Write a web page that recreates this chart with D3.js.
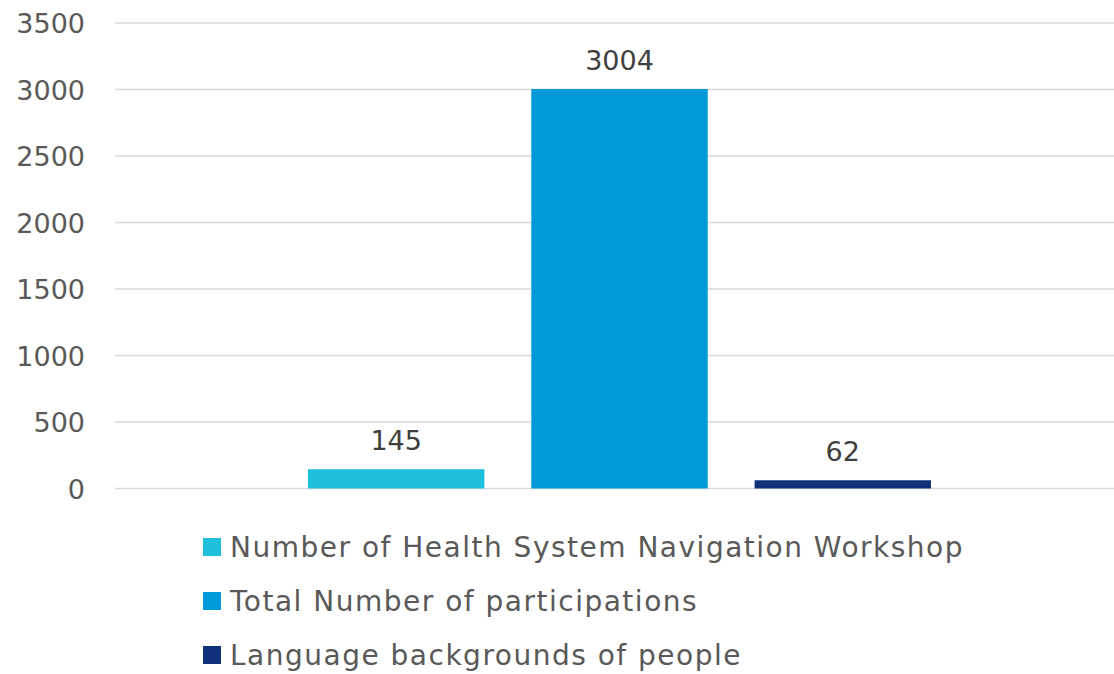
<!DOCTYPE html>
<html><head><meta charset="utf-8">
<script src="https://cdn.jsdelivr.net/npm/d3@7"></script>
<style>body{margin:0;background:#fff}svg{display:block}</style>
</head><body><svg id="c" width="1114" height="674"></svg>
<script>
const seriesNames = ["Number of Health System Navigation Workshop","Total Number of participations","Language backgrounds of people"];
const seriesValues = [145, 3004, 62];
const seriesColors = ["#1FC0DC","#0099D8","#10307A"];
const yTicks = [0,500,1000,1500,2000,2500,3000,3500];

const svg = d3.select("#c");
const font = "'DejaVu Sans', sans-serif";
const y = d3.scaleLinear().domain([0,3500]).range([488.5,23]);
const x = d3.scaleBand().domain(seriesNames).range([308,931]).paddingInner(0.21).paddingOuter(0);

const g = svg.append("g");
g.selectAll("line.grid").data(yTicks).join("line")
  .attr("x1",115).attr("x2",1114)
  .attr("y1",d=>y(d)).attr("y2",d=>y(d))
  .attr("stroke","#D9D9D9").attr("stroke-width",1.5);

const yAxis = d3.axisLeft(y).tickValues(yTicks).tickFormat(d3.format("d")).tickSize(0).tickPadding(0);
const ag = svg.append("g").attr("transform","translate(85,0)").call(yAxis);
ag.select(".domain").remove();
ag.selectAll("text").attr("font-family",font).attr("font-size",27).attr("fill","#595959").attr("dy","0.36em");

g.selectAll("rect.bar").data(seriesValues).join("rect")
  .attr("x",(d,i)=>x(seriesNames[i])).attr("width",x.bandwidth())
  .attr("y",d=>y(d)).attr("height",d=>y(0)-y(d))
  .attr("fill",(d,i)=>seriesColors[i]);

g.selectAll("text.lab").data(seriesValues).join("text")
  .attr("x",(d,i)=>x(seriesNames[i])+x.bandwidth()/2)
  .attr("y",d=>y(d)-19)
  .attr("text-anchor","middle").attr("font-family",font).attr("font-size",27).attr("fill","#404040")
  .text(d=>d);

const lg = svg.append("g");
seriesNames.forEach((n,i)=>{
  const cy = 547 + i*54;
  lg.append("rect").attr("x",203).attr("y",cy-9).attr("width",18).attr("height",18).attr("fill",seriesColors[i]);
  lg.append("text").attr("x",230).attr("y",cy).attr("dy","0.36em")
    .attr("font-family",font).attr("font-size",28).attr("letter-spacing",1.5).attr("fill","#595959").text(n);
});
</script></body></html>
